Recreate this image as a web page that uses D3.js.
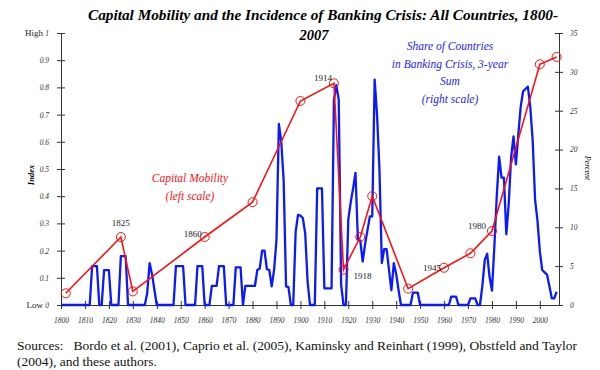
<!DOCTYPE html>
<html><head><meta charset="utf-8">
<script src="https://cdn.jsdelivr.net/npm/d3@7"></script>
<style>
html,body{margin:0;padding:0;background:#fff;}
svg{display:block;}
text{font-family:"Liberation Serif","Times New Roman",serif;}
</style></head>
<body>
<svg id="c" width="600" height="370"></svg>
<script>
// ---- data ----
const capYears  = [1802, 1825, 1830, 1860, 1880, 1900, 1914, 1918, 1925, 1930, 1945, 1960, 1971, 1980, 2000, 2007];
const capValues = [0.043, 0.25, 0.05, 0.25, 0.378, 0.75, 0.815, 0.13, 0.25, 0.40, 0.06, 0.137, 0.19, 0.272, 0.885, 0.912];
const capLabels = [
  {year:1825, text:"1825"}, {year:1860, text:"1860"}, {year:1914, text:"1914"},
  {year:1918, text:"1918"}, {year:1960, text:"1945"}, {year:1980, text:"1980"}
];
const crisisStart = 1800;
const crisisShare = [
  0,0,0,0,0,0,0,0,0,0,                       // 1800s
  0,0,0,5,5,5,0,0,4.5,4.5,                   // 1810s
  4.5,0,0,0,0,6.3,6.3,6.3,0,0,               // 1820s
  0,0,0,0,0,0,1.5,5.4,4.0,2.0,               // 1830s
  0,0,0,0,0,0,0,0,5,5,                       // 1840s
  5,5,0,0,0,0,0,5,5,5,                       // 1850s
  0,0,0,2.45,2.45,2.45,5,5,5,0,              // 1860s
  0,0,0,4.85,4.85,4.85,0,2.45,2.45,2.45,     // 1870s
  2.45,2.45,4.5,4.7,7.0,7.0,4.6,4.5,2.4,4.5, // 1880s
  8.4,23.3,21,16,2.4,2.3,0,0,9.4,11.6,       // 1890s
  11.5,11.2,9.2,3.0,0,0,0,15,15,15,          // 1900s
  2.15,2.15,2.15,2.15,26.4,28.3,26.4,2.6,0,0,// 1910s
  11,13.2,15,17,8.4,8.3,5.6,7.8,9.6,11.4,    // 1920s
  11.4,29,24.5,17.5,5.4,7.2,7.2,4.5,1.9,5.4, // 1930s
  4.0,1.9,0,0,0,0,0,1.6,1.6,1.6,             // 1940s
  0,0,0,0,0,0,0,0,0,0,                       // 1950s
  0,0,0,1.07,1.07,1.07,0,0,0,0,              // 1960s
  0,0.86,0.86,0.86,0,0,2.5,5.8,6.6,3.6,      // 1970s
  1.85,7.5,14,19.1,16.4,16.4,9.1,13,19,21.7, // 1980s
  18.1,21.9,25.5,27.5,27.8,28.1,25.5,21.2,13.6,10.9, // 1990s
  6.9,4.5,4.2,3.9,2.4,0.86,0.86,1.7          // 2000s
];
const xTicks = [1800,1810,1820,1830,1840,1850,1860,1870,1880,1890,1900,1910,1920,1930,1940,1950,1960,1970,1980,1990,2000];
const leftTicks = [0,0.1,0.2,0.3,0.4,0.5,0.6,0.7,0.8,0.9,1];
const leftTickLabels = ["0","0.1","0.2","0.3","0.4","0.5","0.6","0.7","0.8","0.9","1"];
const rightTicks = [0,5,10,15,20,25,30,35];
const titleLines = ["Capital Mobility and the Incidence of Banking Crisis: All Countries, 1800-", "2007"];
const capNote = ["Capital Mobility", "(left scale)"];
const crisisNote = ["Share of Countries", "in Banking Crisis, 3-year", "Sum", "(right scale)"];
const sourceLines = ["Sources:   Bordo et al. (2001), Caprio et al. (2005), Kaminsky and Reinhart (1999), Obstfeld and Taylor",
                     "(2004), and these authors."];

// ---- chart ----
const svg = d3.select("#c");
const x = d3.scaleLinear().domain([1800, 2008]).range([61, 559]);
const yL = d3.scaleLinear().domain([0, 1]).range([305, 33]);
const yR = d3.scaleLinear().domain([0, 35]).range([305, 33]);
const axisCol = "#333";

// title
svg.append("text").attr("x", 323).attr("y", 20).attr("text-anchor","middle")
  .attr("font-size", 14.5).attr("font-weight","bold").attr("font-style","italic")
  .attr("textLength", 470).attr("lengthAdjust","spacingAndGlyphs")
  .text(titleLines[0]);
svg.append("text").attr("x", 314).attr("y", 40).attr("text-anchor","middle")
  .attr("font-size", 14.5).attr("font-weight","bold").attr("font-style","italic")
  .text(titleLines[1]);

// x axis
const gx = svg.append("g").attr("transform","translate(0,305)")
  .call(d3.axisBottom(x).tickValues(xTicks).tickFormat(d3.format("d")).tickSize(4).tickPadding(9).tickSizeOuter(0));
gx.selectAll(".tick line").attr("y1",-4).attr("y2",4);
gx.selectAll("text").attr("font-size",7.5).attr("font-style","italic").attr("fill",axisCol)
  .style("font-family",'"Liberation Serif",serif');
gx.select(".domain").attr("stroke",axisCol);
gx.selectAll(".tick line").attr("stroke",axisCol);

// left axis
const gl = svg.append("g").attr("transform","translate(61,0)")
  .call(d3.axisLeft(yL).tickValues(leftTicks).tickFormat((d,i)=>leftTickLabels[i]).tickSize(4).tickPadding(8).tickSizeOuter(0));
gl.selectAll(".tick line").attr("x1",-4).attr("x2",4).attr("stroke",axisCol);
gl.selectAll("text").attr("font-size",7.5).attr("font-style","italic").attr("fill",axisCol)
  .style("font-family",'"Liberation Serif",serif');
gl.select(".domain").attr("stroke",axisCol);
svg.append("text").attr("x",43).attr("y",yL(1)+3).attr("text-anchor","end").attr("font-size",9).attr("fill","#222").text("High");
svg.append("text").attr("x",43).attr("y",yL(0)+3).attr("text-anchor","end").attr("font-size",9).attr("fill","#222").text("Low");
svg.append("text").attr("transform","translate(34,175) rotate(-90)").attr("text-anchor","middle")
  .attr("font-size",8.5).attr("font-weight","bold").attr("font-style","italic").text("Index");

// right axis
const gr = svg.append("g").attr("transform","translate(559,0)")
  .call(d3.axisRight(yR).tickValues(rightTicks).tickSize(4).tickPadding(7).tickSizeOuter(0));
gr.selectAll(".tick line").attr("x1",-4).attr("x2",4).attr("stroke",axisCol);
gr.selectAll("text").attr("font-size",7.5).attr("font-style","italic").attr("fill",axisCol)
  .style("font-family",'"Liberation Serif",serif');
gr.select(".domain").attr("stroke",axisCol);
svg.append("text").attr("transform","translate(585,168) rotate(90)").attr("text-anchor","middle")
  .attr("font-size",8).attr("font-style","italic").text("Percent");

// blue line
const crisisPts = crisisShare.map((v,i)=>[crisisStart+i, v]);
svg.append("path").datum(crisisPts)
  .attr("fill","none").attr("stroke","#0a1aff").attr("stroke-width",2.3).attr("stroke-linejoin","round")
  .attr("d", d3.line().x(d=>x(d[0])).y(d=>yR(d[1])));

// red line
const capPts = capYears.map((yr,i)=>[yr, capValues[i]]);
svg.append("path").datum(capPts)
  .attr("fill","none").attr("stroke","#ff1010").attr("stroke-width",1.6)
  .attr("d", d3.line().x(d=>x(d[0])).y(d=>yL(d[1])));
svg.selectAll("circle.cap").data(capPts).enter().append("circle")
  .attr("cx",d=>x(d[0])).attr("cy",d=>yL(d[1])).attr("r",4.5)
  .attr("fill","none").attr("stroke","#ff1010").attr("stroke-width",1);

// point labels
const capVal = yr => capValues[capYears.indexOf(yr)];
const labelPos = {
  "1825": {dx:0, dy:-11, anchor:"middle"},
  "1860": {dx:-3, dy:0, anchor:"end"},
  "1914": {dx:-2, dy:-2, anchor:"end"},
  "1918": {dx:10, dy:9, anchor:"start"},
  "1945": {dx:-3, dy:3, anchor:"end"},
  "1980": {dx:-6, dy:-2, anchor:"end"}
};
capLabels.forEach(l=>{
  const p = labelPos[l.text];
  svg.append("text").attr("x", x(l.year)+p.dx).attr("y", yL(capVal(l.year))+p.dy)
    .attr("text-anchor", p.anchor).attr("font-size",9).attr("fill","#222").text(l.text);
});

// notes
capNote.forEach((t,i)=>svg.append("text").attr("x",190).attr("y",182+i*18).attr("text-anchor","middle")
  .attr("font-size",11.5).attr("font-style","italic").attr("fill","#ff1010").text(t));
crisisNote.forEach((t,i)=>svg.append("text").attr("x",450).attr("y",50+i*17.7).attr("text-anchor","middle")
  .attr("font-size",11.5).attr("font-style","italic").attr("fill","#1a1aff").text(t));

// sources
sourceLines.forEach((t,i)=>{
  const tx = svg.append("text").attr("x",17).attr("y",350+i*16)
    .attr("font-size",13.5).attr("fill","#111").attr("xml:space","preserve").style("white-space","pre").text(t);
  if (i === 0) tx.attr("textLength",560).attr("lengthAdjust","spacingAndGlyphs");
});
</script>
</body></html>
